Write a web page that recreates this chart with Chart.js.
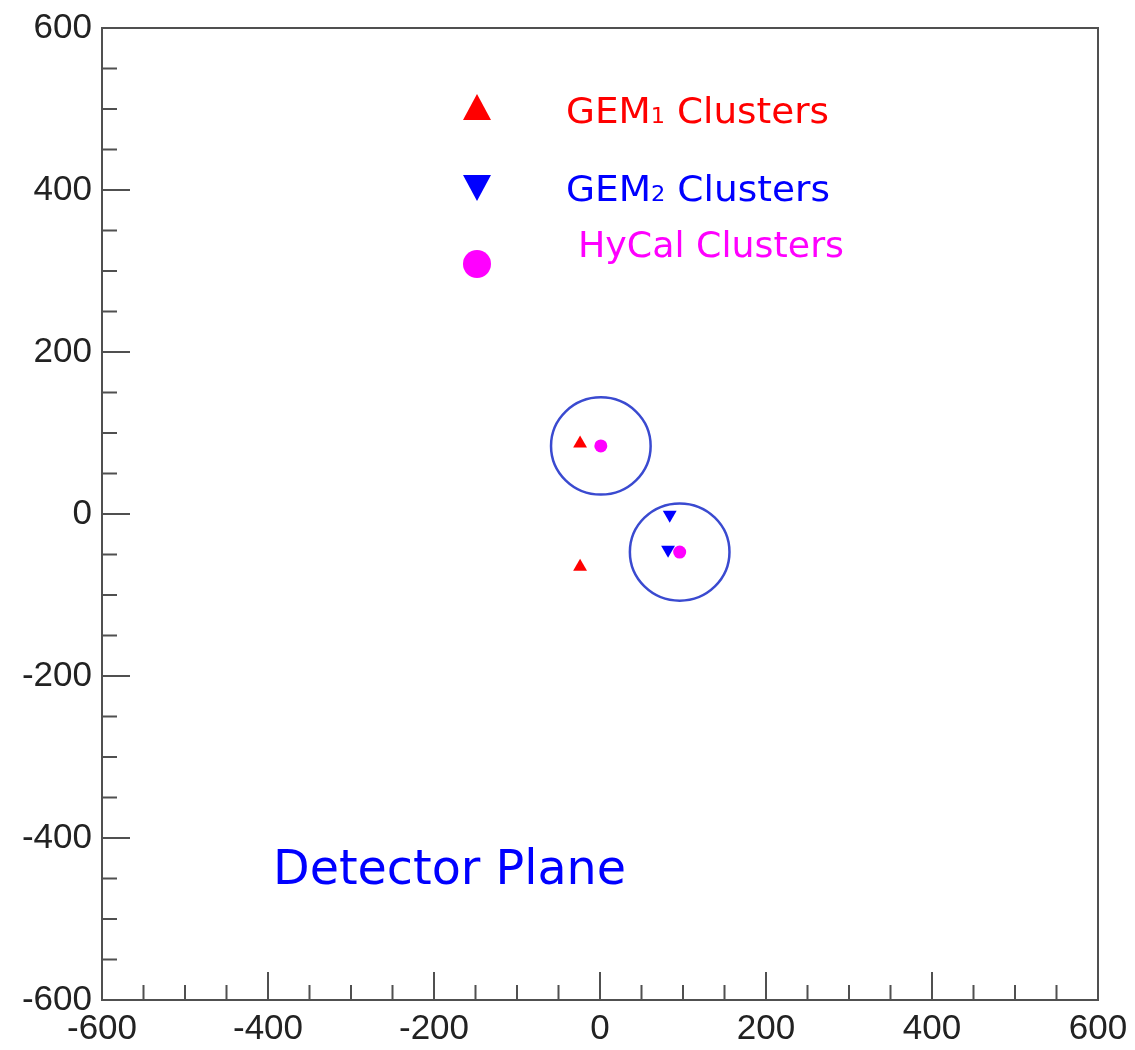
<!DOCTYPE html>
<html><head><meta charset="utf-8">
<script src="https://cdn.jsdelivr.net/npm/chart.js@4/dist/chart.umd.min.js"></script>
<style>html,body{margin:0;padding:0;background:#fff}#wrap{width:1135px;height:1050px}</style>
</head><body><div id="wrap"><canvas id="c" width="1135" height="1050"></canvas></div>
<script>
// ---- data ----
const xTicks = [-600, -400, -200, 0, 200, 400, 600];
const yTicks = [-600, -400, -200, 0, 200, 400, 600];
const minorStep = 50;
const gem1X = [-24, -24];
const gem1Y = [87, -65];
const gem2X = [84, 82];
const gem2Y = [-1, -44];
const hycalX = [1, 96];
const hycalY = [84, -47];
const circleRadius = 60;
const seriesNames = ['GEM1 Clusters', 'GEM2 Clusters', 'HyCal Clusters'];
const planeTitle = 'Detector Plane';

const RED = '#ff0000', BLUE = '#0000ff', MAGENTA = '#ff00ff', CIRCLE = '#3a4ad0', FRAME = '#505050';

function pts(xs, ys) { return xs.map((x, i) => ({ x: x, y: ys[i] })); }

function drawFit(ctx, segs, x, base, width, color) {
  ctx.save();
  ctx.fillStyle = color;
  ctx.textBaseline = 'alphabetic';
  ctx.textAlign = 'left';
  let w = 0;
  segs.forEach(s => { ctx.font = s.size + 'px "DejaVu Sans"'; w += ctx.measureText(s.text).width; });
  const k = width / w;
  ctx.translate(x, base);
  ctx.scale(k, 1);
  let cx = 0;
  segs.forEach(s => { ctx.font = s.size + 'px "DejaVu Sans"'; ctx.fillText(s.text, cx, 0); cx += ctx.measureText(s.text).width; });
  ctx.restore();
}
function labelSegs(name, size) {
  const m = name.match(/^([A-Za-z]+)(\d)(.*)$/);
  if (m) return [{ text: m[1], size: size }, { text: m[2], size: Math.round(size * 0.6) }, { text: m[3], size: size }];
  return [{ text: name, size: size }];
}
function tri(ctx, x, y, w, h, up, color) {
  ctx.save(); ctx.fillStyle = color; ctx.beginPath();
  if (up) { ctx.moveTo(x, y - h / 2); ctx.lineTo(x + w / 2, y + h / 2); ctx.lineTo(x - w / 2, y + h / 2); }
  else { ctx.moveTo(x, y + h / 2); ctx.lineTo(x + w / 2, y - h / 2); ctx.lineTo(x - w / 2, y - h / 2); }
  ctx.closePath(); ctx.fill(); ctx.restore();
}

const decor = {
  id: 'decor',
  beforeDatasetsDraw(chart) {
    const { ctx, scales: { x, y } } = chart;
    ctx.save();
    ctx.strokeStyle = CIRCLE; ctx.lineWidth = 2.5;
    hycalX.forEach((cx, i) => {
      const px = x.getPixelForValue(cx), py = y.getPixelForValue(hycalY[i]);
      const rx = Math.abs(x.getPixelForValue(cx + circleRadius) - px);
      const ry = Math.abs(y.getPixelForValue(hycalY[i] + circleRadius) - py);
      ctx.beginPath(); ctx.ellipse(px, py, rx, ry, 0, 0, Math.PI * 2); ctx.stroke();
    });
    ctx.restore();
  },
  afterDraw(chart) {
    const { ctx, chartArea: a, scales: { x, y } } = chart;
    ctx.save();
    ctx.strokeStyle = FRAME; ctx.lineWidth = 2;
    ctx.strokeRect(a.left, a.top, a.right - a.left, a.bottom - a.top);
    ctx.beginPath();
    for (let v = xTicks[0]; v <= xTicks[xTicks.length - 1]; v += minorStep) {
      const major = xTicks.includes(v); const p = x.getPixelForValue(v);
      ctx.moveTo(p, a.bottom); ctx.lineTo(p, a.bottom - (major ? 28 : 15));
    }
    for (let v = yTicks[0]; v <= yTicks[yTicks.length - 1]; v += minorStep) {
      const major = yTicks.includes(v); const p = y.getPixelForValue(v);
      ctx.moveTo(a.left, p); ctx.lineTo(a.left + (major ? 28 : 15), p);
    }
    ctx.stroke();
    ctx.restore();
    // legend
    const colors = [RED, BLUE, MAGENTA];
    const mk = [[477, 107], [477, 188], [477, 264]];
    tri(ctx, mk[0][0], mk[0][1], 28, 26, true, RED);
    tri(ctx, mk[1][0], mk[1][1], 28, 26, false, BLUE);
    ctx.save(); ctx.fillStyle = MAGENTA; ctx.beginPath(); ctx.arc(mk[2][0], mk[2][1], 14, 0, Math.PI * 2); ctx.fill(); ctx.restore();
    const tx = [566, 566, 578], tb = [123, 201, 257], tw = [263, 264, 266];
    seriesNames.forEach((n, i) => drawFit(ctx, labelSegs(n, 35), tx[i], tb[i], tw[i], colors[i]));
    drawFit(ctx, [{ text: planeTitle, size: 48 }], 273, 884, 353, BLUE);
  }
};

new Chart(document.getElementById('c'), {
  type: 'scatter',
  data: {
    datasets: [
      { label: seriesNames[0], data: pts(gem1X, gem1Y), pointStyle: 'triangle', pointRadius: 8, backgroundColor: RED, borderColor: RED, borderWidth: 0 },
      { label: seriesNames[1], data: pts(gem2X, gem2Y), pointStyle: 'triangle', rotation: 180, pointRadius: 8, backgroundColor: BLUE, borderColor: BLUE, borderWidth: 0 },
      { label: seriesNames[2], data: pts(hycalX, hycalY), pointStyle: 'circle', pointRadius: 6.5, backgroundColor: MAGENTA, borderColor: MAGENTA, borderWidth: 0 }
    ]
  },
  options: {
    responsive: false, animation: false, devicePixelRatio: 1,
    layout: { padding: { top: 28, right: 37, left: 0, bottom: 0 } },
    plugins: { legend: { display: false }, tooltip: { enabled: false } },
    scales: {
      x: {
        type: 'linear', min: -600, max: 600,
        afterBuildTicks: s => { s.ticks = xTicks.map(v => ({ value: v })); },
        afterFit: s => { s.height = 50; },
        grid: { display: false, drawTicks: true, tickLength: 6 }, border: { display: false },
        ticks: { autoSkip: false, maxRotation: 0, minRotation: 0, padding: 2, color: '#222', font: { family: '"Liberation Sans", Arial', size: 35 } }
      },
      y: {
        type: 'linear', min: -600, max: 600,
        afterBuildTicks: s => { s.ticks = yTicks.map(v => ({ value: v })); },
        afterFit: s => { s.width = 102; },
        grid: { display: false, drawTicks: true, tickLength: 8 }, border: { display: false },
        ticks: { autoSkip: false, padding: 2, color: '#222', font: { family: '"Liberation Sans", Arial', size: 35 } }
      }
    }
  },
  plugins: [decor]
});
</script></body></html>
